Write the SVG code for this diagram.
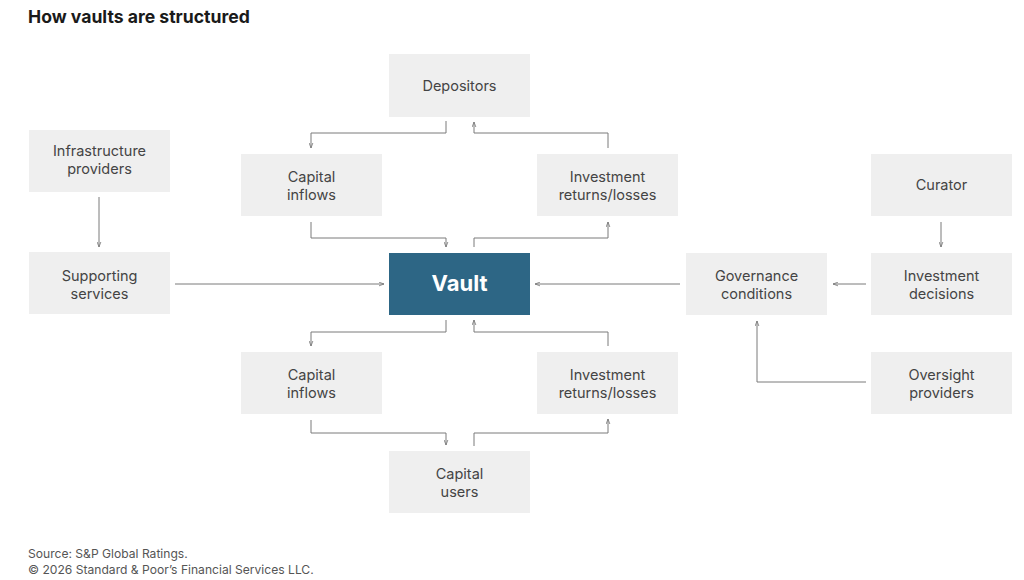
<svg xmlns="http://www.w3.org/2000/svg" width="1024" height="580" viewBox="0 0 1024 580">
<style>
.box{fill:#efefef}
.t{font-family:Inter,"Liberation Sans",sans-serif;font-size:14.5px;fill:#444;text-anchor:middle}
.c{fill:none;stroke:#7a7a7a;stroke-width:1}
.ft{font-family:Inter,"Liberation Sans",sans-serif;font-size:12.1px;fill:#555}
</style>
<defs>
<marker id="a" viewBox="0 0 6 6" refX="6" refY="3" markerWidth="5" markerHeight="5" orient="auto" markerUnits="userSpaceOnUse">
<path d="M0,0.8 L6,3 L0,5.2" fill="none" stroke="#7a7a7a" stroke-width="1"/>
</marker>
</defs>
<rect width="1024" height="580" fill="#fff"/>
<text x="28" y="23" font-family="Inter,'Liberation Sans',sans-serif" font-size="17.6" font-weight="bold" fill="#1a1a1a">How vaults are structured</text>

<g id="depositors"><rect class="box" x="389" y="54" width="141" height="63"/><text class="t" x="459.5" y="91">Depositors</text></g>
<g id="cap-in-top"><rect class="box" x="241" y="154" width="141" height="62"/><text class="t" x="311.5" y="182">Capital</text><text class="t" x="311.5" y="200">inflows</text></g>
<g id="ret-top"><rect class="box" x="537" y="154" width="141" height="62"/><text class="t" x="607.5" y="182">Investment</text><text class="t" x="607.5" y="200">returns/losses</text></g>
<g id="vault"><rect x="389" y="253" width="141" height="62" fill="#2d6685"/><text x="459.5" y="291" font-family="Inter,'Liberation Sans',sans-serif" font-size="22" font-weight="bold" fill="#fff" text-anchor="middle">Vault</text></g>
<g id="cap-in-bot"><rect class="box" x="241" y="352" width="141" height="62"/><text class="t" x="311.5" y="380">Capital</text><text class="t" x="311.5" y="398">inflows</text></g>
<g id="ret-bot"><rect class="box" x="537" y="352" width="141" height="62"/><text class="t" x="607.5" y="380">Investment</text><text class="t" x="607.5" y="398">returns/losses</text></g>
<g id="users"><rect class="box" x="389" y="451" width="141" height="62"/><text class="t" x="459.5" y="479">Capital</text><text class="t" x="459.5" y="497">users</text></g>
<g id="infra"><rect class="box" x="29" y="130" width="141" height="62"/><text class="t" x="99.5" y="156">Infrastructure</text><text class="t" x="99.5" y="174">providers</text></g>
<g id="support"><rect class="box" x="29" y="252" width="141" height="62"/><text class="t" x="99.5" y="281">Supporting</text><text class="t" x="99.5" y="299">services</text></g>
<g id="curator"><rect class="box" x="871" y="154" width="141" height="62"/><text class="t" x="941.5" y="190">Curator</text></g>
<g id="decisions"><rect class="box" x="871" y="253" width="141" height="62"/><text class="t" x="941.5" y="281">Investment</text><text class="t" x="941.5" y="299">decisions</text></g>
<g id="governance"><rect class="box" x="686" y="253" width="141" height="62"/><text class="t" x="756.5" y="281">Governance</text><text class="t" x="756.5" y="299">conditions</text></g>
<g id="oversight"><rect class="box" x="871" y="352" width="141" height="62"/><text class="t" x="941.5" y="380">Oversight</text><text class="t" x="941.5" y="398">providers</text></g>

<g id="connectors">
<path class="c" d="M446,121 V133 H311 V148" marker-end="url(#a)"/>
<path class="c" d="M608,148 V133 H474 V122" marker-end="url(#a)"/>
<path class="c" d="M311,222 V238 H446 V247" marker-end="url(#a)"/>
<path class="c" d="M474,247 V238 H608 V222" marker-end="url(#a)"/>
<path class="c" d="M446,320 V332 H311 V346" marker-end="url(#a)"/>
<path class="c" d="M608,346 V332 H474 V320" marker-end="url(#a)"/>
<path class="c" d="M311,420 V433 H446 V445" marker-end="url(#a)"/>
<path class="c" d="M474,446 V433 H608 V419" marker-end="url(#a)"/>
<path class="c" d="M99,197 V247" marker-end="url(#a)"/>
<path class="c" d="M175,284 H384" marker-end="url(#a)"/>
<path class="c" d="M941,222 V247" marker-end="url(#a)"/>
<path class="c" d="M866,284 H833" marker-end="url(#a)"/>
<path class="c" d="M680,284 H535" marker-end="url(#a)"/>
<path class="c" d="M866,382 H757 V321" marker-end="url(#a)"/>
</g>

<text class="ft" x="28" y="558">Source: S&amp;P Global Ratings.</text>
<text class="ft" x="28" y="574">© 2026 Standard &amp; Poor’s Financial Services LLC.</text>
</svg>
